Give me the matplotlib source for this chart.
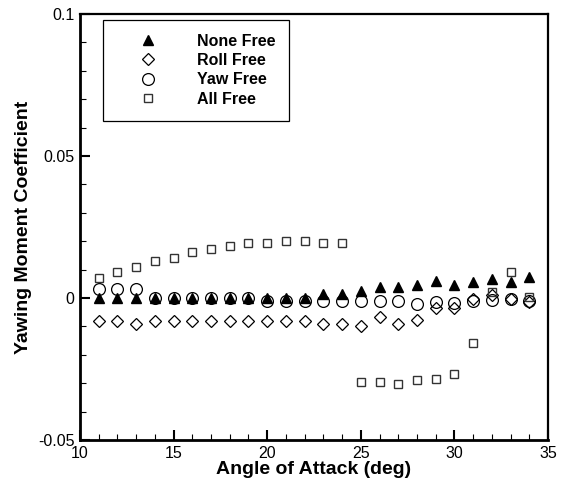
import matplotlib
matplotlib.use("Agg")
import matplotlib.pyplot as plt
from matplotlib.ticker import MultipleLocator, FuncFormatter

plt.rcParams["font.family"] = ["Liberation Sans", "DejaVu Sans"]

# Angle of attack (deg)
alpha = [11, 12, 13, 14, 15, 16, 17, 18, 19, 20, 21, 22,
         23, 24, 25, 26, 27, 28, 29, 30, 31, 32, 33, 34]

# Yawing moment coefficient for each test configuration
none_free = [0.0, 0.0, 0.0, 0.0, 0.0, 0.0, 0.0, 0.0, 0.0, 0.0, 0.0, 0.0,
             0.0014, 0.0014, 0.0026, 0.0037, 0.0037, 0.0046, 0.0060, 0.0047,
             0.0058, 0.0067, 0.0058, 0.0074]
roll_free = [-0.0080, -0.0080, -0.0093, -0.0080, -0.0080, -0.0080, -0.0080,
             -0.0080, -0.0080, -0.0080, -0.0080, -0.0080, -0.0090, -0.0090,
             -0.0098, -0.0068, -0.0090, -0.0079, -0.0035, -0.0035, -0.0003,
             0.0010, -0.0005, -0.0013]
yaw_free = [0.0032, 0.0032, 0.0032, 0.0, 0.0, 0.0, 0.0, 0.0, 0.0,
            -0.0010, -0.0010, -0.0010, -0.0010, -0.0010, -0.0010, -0.0010,
            -0.0010, -0.0020, -0.0015, -0.0017, -0.0012, -0.0008, -0.0005,
            -0.0010]
all_free = [0.0072, 0.0090, 0.0110, 0.0132, 0.0142, 0.0162, 0.0173, 0.0182,
            0.0192, 0.0192, 0.0200, 0.0200, 0.0192, 0.0192, -0.0296, -0.0296,
            -0.0304, -0.0289, -0.0284, -0.0269, -0.0160, 0.0022, 0.0092,
            0.0003]

fig = plt.figure(figsize=(5.65, 4.83), dpi=100)
ax = fig.add_axes([80 / 565, 43 / 483, 468 / 565, 426 / 483])

ax.plot(alpha, none_free, linestyle="none", marker="^", ms=6.5,
        mfc="black", mec="black", label="None Free")
ax.plot(alpha, roll_free, linestyle="none", marker="D", ms=6.5,
        mfc="none", mec="black", mew=0.9, label="Roll Free")
ax.plot(alpha, yaw_free, linestyle="none", marker="o", ms=8.5,
        mfc="none", mec="black", mew=0.9, label="Yaw Free")
ax.plot(alpha, all_free, linestyle="none", marker="s", ms=6.3,
        mfc="none", mec="#333333", mew=1.0, label="All Free")

ax.set_xlim(10, 35)
ax.set_ylim(-0.05, 0.1)
ax.xaxis.set_major_locator(MultipleLocator(5))
ax.xaxis.set_minor_locator(MultipleLocator(1))
ax.yaxis.set_major_locator(MultipleLocator(0.05))
ax.yaxis.set_minor_locator(MultipleLocator(0.01))
ax.yaxis.set_major_formatter(FuncFormatter(
    lambda v, p: "0" if abs(v) < 1e-12 else f"{v:g}"))

ax.tick_params(which="both", direction="in", top=False, right=False,
               labelsize=11.5, colors="black")
ax.tick_params(which="major", length=7.5, width=1.5, pad=4)
ax.tick_params(which="minor", length=4, width=0.8)

for side in ["left", "bottom"]:
    ax.spines[side].set_linewidth(2.0)
for side in ["top", "right"]:
    ax.spines[side].set_linewidth(1.6)

ax.set_xlabel("Angle of Attack (deg)", fontsize=14, fontweight="bold",
              labelpad=0)
ax.set_ylabel("Yawing Moment Coefficient", fontsize=14, fontweight="bold",
              labelpad=4)

leg = ax.legend(loc="upper left", bbox_to_anchor=(0.049, 0.986),
                frameon=True, fancybox=False, framealpha=1,
                edgecolor="black", borderpad=0.85, handlelength=4.0,
                handletextpad=1.05, labelspacing=0.28, borderaxespad=0,
                prop={"weight": "bold", "size": 11.5})
leg.get_frame().set_linewidth(0.9)

fig.savefig("out.png", dpi=100)
